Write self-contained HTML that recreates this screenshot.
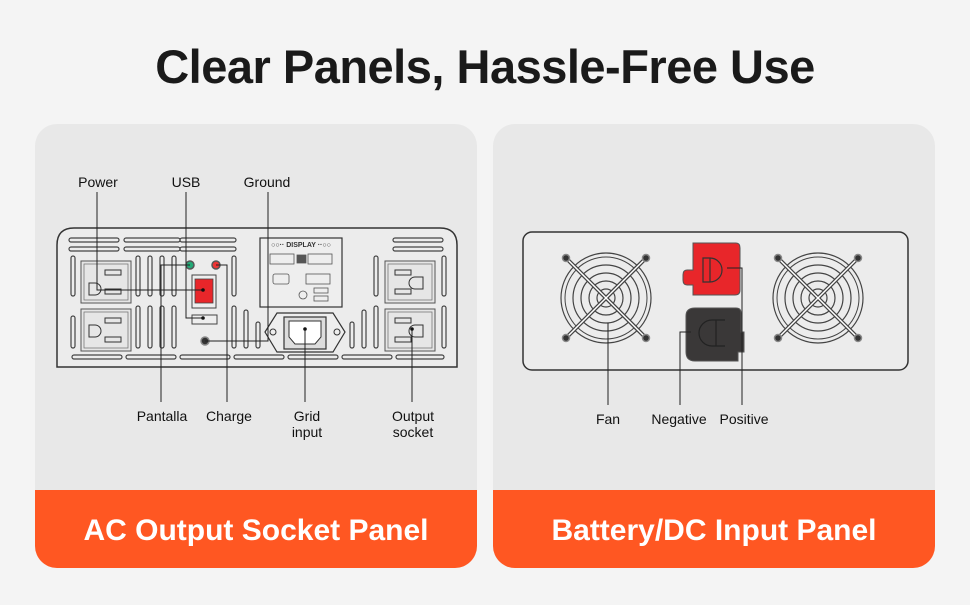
<!DOCTYPE html>
<html><head><meta charset="utf-8"><style>
body{margin:0;width:970px;height:600px;background:#f4f4f4;overflow:hidden;font-family:"Liberation Sans",sans-serif}
</style></head><body>
<svg width="970" height="600" viewBox="0 0 970 600" xmlns="http://www.w3.org/2000/svg" font-family="Liberation Sans, sans-serif">
<defs>
<clipPath id="c1"><rect x="35" y="124" width="442" height="444" rx="22"/></clipPath>
<clipPath id="c2"><rect x="493" y="124" width="442" height="444" rx="22"/></clipPath>
<g id="fan">
<circle r="45" fill="none" stroke="#444" stroke-width="1.2"/>
<circle r="41" fill="none" stroke="#444" stroke-width="1"/>
<circle r="33" fill="none" stroke="#444" stroke-width="1.2"/>
<circle r="25" fill="none" stroke="#444" stroke-width="1.2"/>
<circle r="17" fill="none" stroke="#444" stroke-width="1.2"/>
<circle r="9" fill="none" stroke="#444" stroke-width="1.2"/>
<line x1="-40" y1="-40" x2="40" y2="40" stroke="#444" stroke-width="4"/>
<line x1="-40" y1="40" x2="40" y2="-40" stroke="#444" stroke-width="4"/>
<line x1="-40" y1="-40" x2="40" y2="40" stroke="#fff" stroke-width="1.5"/>
<line x1="-40" y1="40" x2="40" y2="-40" stroke="#fff" stroke-width="1.5"/>
<g fill="#333" stroke="#888" stroke-width="1.5"><circle cx="-40" cy="-40" r="3.5"/><circle cx="40" cy="-40" r="3.5"/><circle cx="-40" cy="40" r="3.5"/><circle cx="40" cy="40" r="3.5"/></g>
</g>
<g id="outlet">
<rect x="0" y="0" width="50" height="42" fill="#e6e6e6" stroke="#555" stroke-width="1"/>
<rect x="3" y="3" width="44" height="36" fill="none" stroke="#777" stroke-width="0.8"/>
<rect x="24" y="9" width="16" height="5" fill="none" stroke="#333" stroke-width="1"/>
<rect x="24" y="28" width="16" height="5" fill="none" stroke="#333" stroke-width="1"/>
</g>
</defs>
<text x="485" y="83" text-anchor="middle" font-size="47" font-weight="bold" fill="#1a1a1a" letter-spacing="-0.5">Clear Panels, Hassle-Free Use</text>

<g clip-path="url(#c1)">
<rect x="35" y="124" width="442" height="444" fill="#e8e8e8"/>
<rect x="35" y="490" width="442" height="78" fill="#ff5722"/>
</g>
<text x="256" y="540" text-anchor="middle" font-size="30" font-weight="bold" fill="#fff">AC Output Socket Panel</text>
<g clip-path="url(#c2)">
<rect x="493" y="124" width="442" height="444" fill="#e8e8e8"/>
<rect x="493" y="490" width="442" height="78" fill="#ff5722"/>
</g>
<text x="714" y="540" text-anchor="middle" font-size="30" font-weight="bold" fill="#fff">Battery/DC Input Panel</text>

<!-- left panel -->
<path d="M57 367 V245 Q57 228 74 228 H440 Q457 228 457 245 V367 Z" fill="#ececec" stroke="#333" stroke-width="1.5"/>
<g fill="none" stroke="#444" stroke-width="1.2">
<rect x="69" y="238" width="50" height="4" rx="2"/><rect x="69" y="247" width="50" height="4" rx="2"/>
<rect x="124" y="238" width="56" height="4" rx="2"/><rect x="124" y="247" width="56" height="4" rx="2"/>
<rect x="180" y="238" width="56" height="4" rx="2"/><rect x="180" y="247" width="56" height="4" rx="2"/>
<rect x="393" y="238" width="50" height="4" rx="2"/><rect x="393" y="247" width="50" height="4" rx="2"/>
<rect x="72" y="355" width="50" height="4" rx="2"/><rect x="126" y="355" width="50" height="4" rx="2"/>
<rect x="180" y="355" width="50" height="4" rx="2"/><rect x="234" y="355" width="50" height="4" rx="2"/>
<rect x="288" y="355" width="50" height="4" rx="2"/><rect x="342" y="355" width="50" height="4" rx="2"/><rect x="396" y="355" width="48" height="4" rx="2"/>
<rect x="71" y="256" width="4" height="40" rx="2"/><rect x="71" y="316" width="4" height="32" rx="2"/>
<rect x="136" y="256" width="4" height="40" rx="2"/><rect x="148" y="256" width="4" height="40" rx="2"/><rect x="160" y="256" width="4" height="40" rx="2"/><rect x="172" y="256" width="4" height="40" rx="2"/>
<rect x="136" y="306" width="4" height="42" rx="2"/><rect x="148" y="306" width="4" height="42" rx="2"/><rect x="160" y="306" width="4" height="42" rx="2"/><rect x="172" y="306" width="4" height="42" rx="2"/>
<rect x="232" y="256" width="4" height="40" rx="2"/><rect x="232" y="306" width="4" height="42" rx="2"/><rect x="244" y="310" width="4" height="38" rx="2"/><rect x="256" y="322" width="4" height="26" rx="2"/>
<rect x="350" y="322" width="4" height="26" rx="2"/><rect x="362" y="310" width="4" height="38" rx="2"/><rect x="374" y="256" width="4" height="40" rx="2"/><rect x="374" y="306" width="4" height="42" rx="2"/>
<rect x="442" y="256" width="4" height="40" rx="2"/><rect x="442" y="306" width="4" height="42" rx="2"/>
</g>
<use href="#outlet" x="81" y="261"/>
<use href="#outlet" x="81" y="309"/>
<g transform="translate(385,261)"><rect x="0" y="0" width="50" height="42" fill="#e6e6e6" stroke="#555"/><rect x="3" y="3" width="44" height="36" fill="none" stroke="#777" stroke-width="0.8"/><rect x="10" y="9" width="16" height="5" fill="none" stroke="#333"/><rect x="10" y="28" width="16" height="5" fill="none" stroke="#333"/><path d="M30 16 h8 v12 h-8 a6 6 0 0 1 0 -12z" fill="none" stroke="#333"/></g>
<g transform="translate(385,309)"><rect x="0" y="0" width="50" height="42" fill="#e6e6e6" stroke="#555"/><rect x="3" y="3" width="44" height="36" fill="none" stroke="#777" stroke-width="0.8"/><rect x="10" y="9" width="16" height="5" fill="none" stroke="#333"/><rect x="10" y="28" width="16" height="5" fill="none" stroke="#333"/><path d="M30 16 h8 v12 h-8 a6 6 0 0 1 0 -12z" fill="none" stroke="#333"/></g>
<path d="M89 283 h6 a6 6 0 0 1 0 12 h-6z" fill="none" stroke="#333"/>
<path d="M89 325 h6 a6 6 0 0 1 0 12 h-6z" fill="none" stroke="#333"/>
<!-- display -->
<rect x="260" y="238" width="82" height="69" fill="#eee" stroke="#333" stroke-width="1.2"/>
<text x="301" y="247" text-anchor="middle" font-size="7" font-weight="bold" fill="#333">○○·· DISPLAY ··○○</text>
<g fill="none" stroke="#555" stroke-width="0.8">
<rect x="270" y="254" width="24" height="10"/><rect x="308" y="254" width="24" height="10"/><rect x="297" y="255" width="9" height="8" fill="#555"/>
<rect x="273" y="274" width="16" height="10" rx="2"/><rect x="306" y="274" width="24" height="10"/>
<circle cx="303" cy="295" r="4"/><rect x="314" y="288" width="14" height="5"/><rect x="314" y="296" width="14" height="5"/>
</g>
<!-- switch area -->
<circle cx="190" cy="265" r="4" fill="#2a7" stroke="#555" stroke-width="1.5"/>
<circle cx="216" cy="265" r="4" fill="#e33" stroke="#555" stroke-width="1.5"/>
<rect x="192" y="275" width="24" height="33" fill="#eee" stroke="#444"/>
<rect x="195" y="279" width="18" height="24" fill="#e8262a" stroke="#444" stroke-width="0.8"/>
<rect x="192" y="315" width="25" height="9" fill="#eee" stroke="#444"/>
<circle cx="205" cy="341" r="4" fill="#333" stroke="#888" stroke-width="1.5"/>
<!-- IEC -->
<path d="M265 332 L277 313 H333 L345 332 L333 352 H277 Z" fill="#eee" stroke="#333" stroke-width="1.2"/>
<rect x="284" y="317" width="42" height="32" fill="#ddd" stroke="#333" stroke-width="1.2"/>
<path d="M289 321 H321 V337 L315 344 H295 L289 337 Z" fill="#fff" stroke="#333"/>
<circle cx="273" cy="332" r="3" fill="none" stroke="#333"/><circle cx="337" cy="332" r="3" fill="none" stroke="#333"/>
<!-- leader lines -->
<g stroke="#222" stroke-width="1" fill="none">
<polyline points="97,192 97,290 203,290"/>
<polyline points="186,192 186,318 203,318"/>
<polyline points="268,192 268,341 205,341"/>
<polyline points="161,402 161,265 190,265"/>
<polyline points="227,402 227,265 216,265"/>
<line x1="305" y1="329" x2="305" y2="402"/>
<line x1="412" y1="329" x2="412" y2="402"/>
</g>
<g fill="#111"><circle cx="203" cy="290" r="1.8"/><circle cx="203" cy="318" r="1.8"/><circle cx="305" cy="329" r="1.8"/><circle cx="412" cy="329" r="1.8"/></g>
<g font-size="14" fill="#111" text-anchor="middle">
<text x="98" y="187">Power</text><text x="186" y="187">USB</text><text x="267" y="187">Ground</text>
<text x="162" y="421">Pantalla</text><text x="229" y="421">Charge</text>
<text x="307" y="421">Grid</text><text x="307" y="437">input</text>
<text x="413" y="421">Output</text><text x="413" y="437">socket</text>
</g>

<!-- right panel -->
<rect x="523" y="232" width="385" height="138" rx="9" fill="#ececec" stroke="#333" stroke-width="1.5"/>
<use href="#fan" x="606" y="298"/>
<use href="#fan" x="818" y="298"/>
<path d="M693 243 H736 Q740 243 740 248 V290 Q740 295 735 295 H693 V285 H687 Q683 285 683 280 V275 Q683 270 687 270 H693 Z" fill="#e8262a" stroke="#555" stroke-width="1"/>
<path d="M703 258 H710 A12 12 0 0 1 710 282 H703 Z M710 258 V282" fill="none" stroke="#333" stroke-width="1.2"/>
<path d="M695 308 H736 Q741 308 741 313 V332 H744 V352 H738 V361 H695 Q686 361 686 352 V316 Q686 308 695 308 Z" fill="#3a3838" stroke="#555"/>
<path d="M725 320 H712 A13 13 0 0 0 712 346 H725 M716 320 V346" fill="none" stroke="#222" stroke-width="1.2"/>
<g stroke="#222" stroke-width="1" fill="none">
<line x1="608" y1="323" x2="608" y2="405"/>
<polyline points="680,405 680,332 691,332"/>
<polyline points="727,268 742,268 742,405"/>
</g>
<g font-size="14" fill="#111" text-anchor="middle">
<text x="608" y="424">Fan</text><text x="679" y="424">Negative</text><text x="744" y="424">Positive</text>
</g>
</svg>
</body></html>
